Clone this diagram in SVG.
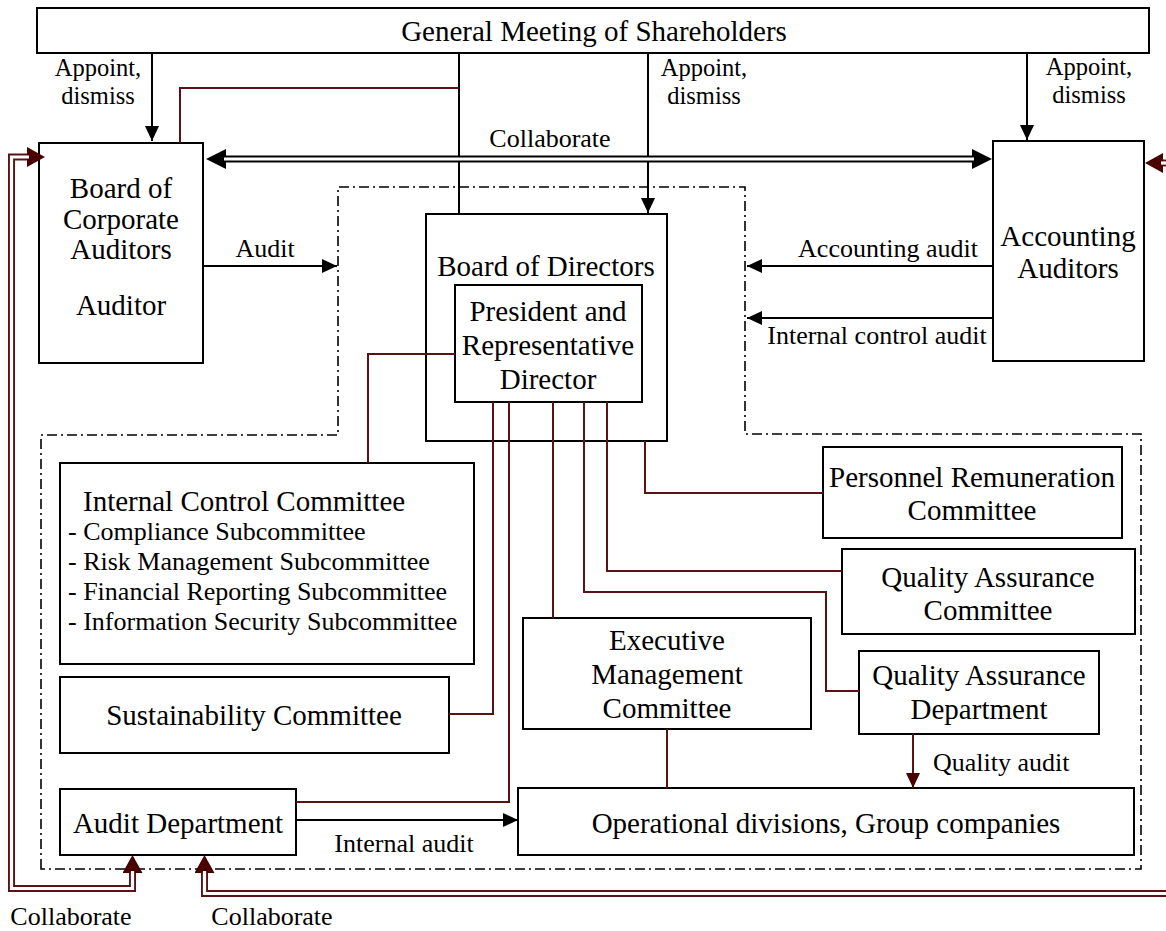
<svg xmlns="http://www.w3.org/2000/svg" width="1166" height="931" viewBox="0 0 1166 931">
<defs>
<style>
.box{fill:#fff;stroke:#000;stroke-width:2}
.t{font-family:"Liberation Serif","Times New Roman",serif;font-size:29px;fill:#000;text-anchor:middle}
.l{font-family:"Liberation Serif","Times New Roman",serif;font-size:26px;fill:#000;text-anchor:middle}
.a{font-size:24.5px}
.s{text-anchor:start}
.ln{fill:none;stroke:#000;stroke-width:2}
.mr{fill:none;stroke:#5c1212;stroke-width:2}
.dd{fill:none;stroke:#000;stroke-width:1.6;stroke-dasharray:10 4 2 4}
.dbl{fill:none;stroke:#000;stroke-width:7}
.dblm{fill:none;stroke:#5c1212;stroke-width:7}
.gap{fill:none;stroke:#fff;stroke-width:3.2}
</style>
<marker id="ab" viewBox="0 0 15 14" refX="15" refY="7" markerWidth="15" markerHeight="14" markerUnits="userSpaceOnUse" orient="auto"><path d="M0,0 L15,7 L0,14 Z" fill="#000"/></marker>
<marker id="am" viewBox="0 0 15 14" refX="15" refY="7" markerWidth="15" markerHeight="14" markerUnits="userSpaceOnUse" orient="auto"><path d="M0,0 L15,7 L0,14 Z" fill="#4b0000"/></marker>
<marker id="cb" viewBox="0 0 20 20" refX="0" refY="10" markerWidth="20" markerHeight="20" markerUnits="userSpaceOnUse" orient="auto-start-reverse"><path d="M0,0 L20,10 L0,20 Z" fill="#000"/></marker>
<marker id="cm" viewBox="0 0 18 20" refX="0" refY="10" markerWidth="18" markerHeight="20" markerUnits="userSpaceOnUse" orient="auto-start-reverse"><path d="M0,0 L18,10 L0,20 Z" fill="#4b0000"/></marker>
</defs>
<rect width="1166" height="931" fill="#fff"/>
<path class="dd" d="M41,869 V435 H338 V187 H745 V434 H1141 V869 Z"/>
<g id="gm"><rect class="box" x="37" y="8" width="1112" height="45"/><text class="t" x="594" y="41">General Meeting of Shareholders</text></g>
<g id="boca"><rect class="box" x="39" y="143" width="164" height="220"/><text class="t" x="121" y="198">Board of<tspan x="121" dy="31">Corporate</tspan><tspan x="121" dy="30">Auditors</tspan></text><text class="t" x="121" y="315">Auditor</text></g>
<g id="accaud"><rect class="box" x="993" y="141" width="151" height="220"/><text class="t" x="1068" y="246">Accounting<tspan x="1068" dy="32">Auditors</tspan></text></g>
<g id="bod"><rect class="box" x="426" y="214" width="241" height="227"/><text class="t" x="546" y="276">Board of Directors</text></g>
<g id="president"><rect class="box" x="455" y="285" width="187" height="117"/><text class="t" x="548" y="321">President and<tspan x="548" dy="34">Representative</tspan><tspan x="548" dy="34">Director</tspan></text></g>
<g id="icc"><rect class="box" x="60" y="463" width="414" height="201"/><text class="t s" x="83" y="511">Internal Control Committee</text><text class="l s" x="68" y="540">- Compliance Subcommittee<tspan x="68" dy="30">- Risk Management Subcommittee</tspan><tspan x="68" dy="30">- Financial Reporting Subcommittee</tspan><tspan x="68" dy="30">- Information Security Subcommittee</tspan></text></g>
<g id="sustain"><rect class="box" x="60" y="677" width="389" height="76"/><text class="t" x="254" y="725">Sustainability Committee</text></g>
<g id="auditdept"><rect class="box" x="60" y="789" width="236" height="66"/><text class="t" x="178" y="833">Audit Department</text></g>
<g id="personnel"><rect class="box" x="823" y="447" width="299" height="91"/><text class="t" x="972" y="487">Personnel Remuneration<tspan x="972" dy="33">Committee</tspan></text></g>
<g id="qac"><rect class="box" x="842" y="549" width="293" height="85"/><text class="t" x="988" y="587">Quality Assurance<tspan x="988" dy="33">Committee</tspan></text></g>
<g id="emc"><rect class="box" x="523" y="618" width="288" height="111"/><text class="t" x="667" y="650">Executive<tspan x="667" dy="34">Management</tspan><tspan x="667" dy="34">Committee</tspan></text></g>
<g id="qad"><rect class="box" x="859" y="651" width="240" height="83"/><text class="t" x="979" y="685">Quality Assurance<tspan x="979" dy="34">Department</tspan></text></g>
<g id="ops"><rect class="box" x="518" y="788" width="616" height="67"/><text class="t" x="826" y="833">Operational divisions, Group companies</text></g>
<g id="connectors">
<path class="ln" d="M152,53 V141" marker-end="url(#ab)"/>
<path class="ln" d="M648,53 V213" marker-end="url(#ab)"/>
<path class="ln" d="M1027,53 V140" marker-end="url(#ab)"/>
<path class="ln" d="M459,53 V214"/>
<path class="mr" d="M180,143 V88 H459"/>
<path class="dbl" d="M226,159 H972" marker-start="url(#cb)" marker-end="url(#cb)"/>
<path class="gap" d="M224,159 H974"/>
<path class="ln" d="M203,266 H337" marker-end="url(#ab)"/>
<path class="ln" d="M993,266 H747" marker-end="url(#ab)"/>
<path class="ln" d="M993,318 H747" marker-end="url(#ab)"/>
<path class="mr" d="M455,354 H368 V463"/>
<path class="mr" d="M493,402 V714 H449"/>
<path class="mr" d="M509,402 V802 H296"/>
<path class="mr" d="M553,402 V618"/>
<path class="mr" d="M584,402 V592 H826 V691 H859"/>
<path class="mr" d="M607,402 V571 H842"/>
<path class="mr" d="M645,441 V493 H823"/>
<path class="mr" d="M667,729 V788"/>
<path class="mr" d="M913,734 V788" marker-end="url(#am)"/>
<path class="ln" d="M296,820 H518" marker-end="url(#ab)"/>
<path class="dblm" d="M27,157 H11.5 V888.5 H132.5 V873" marker-start="url(#cm)" marker-end="url(#cm)"/>
<path class="gap" d="M29,157 H11.5 V888.5 H132.5 V871"/>
<path class="dblm" d="M1170,893.5 H204.5 V873" marker-end="url(#cm)"/>
<path class="gap" d="M1170,893.5 H204.5 V871"/>
<path class="dblm" d="M1170,163 H1163" marker-end="url(#cm)"/>
<path class="gap" d="M1170,163 H1161"/>
<text class="l a" x="98" y="76">Appoint,</text><text class="l a" x="98" y="104">dismiss</text>
<text class="l a" x="704" y="76">Appoint,</text><text class="l a" x="704" y="104">dismiss</text>
<text class="l a" x="1089" y="75">Appoint,</text><text class="l a" x="1089" y="103">dismiss</text>
<text class="l" x="550" y="147">Collaborate</text>
<text class="l" x="265" y="257">Audit</text>
<text class="l" x="888" y="257">Accounting audit</text>
<text class="l" x="877" y="344">Internal control audit</text>
<text class="l s" x="933" y="771">Quality audit</text>
<text class="l" x="404" y="852">Internal audit</text>
<text class="l" x="71" y="925">Collaborate</text>
<text class="l" x="272" y="925">Collaborate</text>
</g>
</svg>
